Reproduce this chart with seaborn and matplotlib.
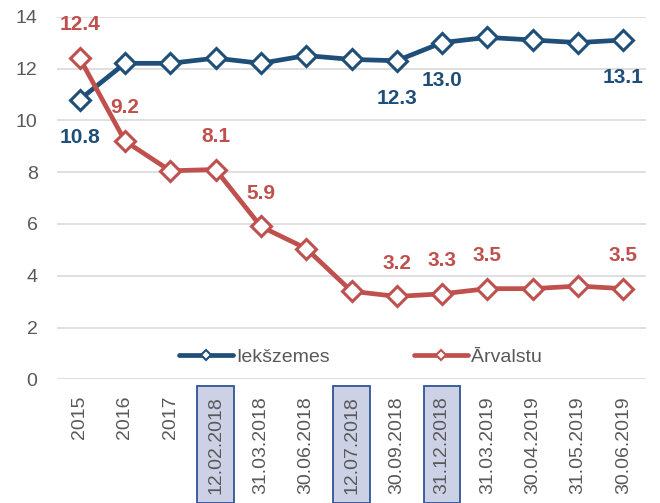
import numpy as np
import pandas as pd
import matplotlib
matplotlib.use("Agg")
import matplotlib.pyplot as plt
from matplotlib.lines import Line2D
import seaborn as sns

# data
periods = ["2015", "2016", "2017", "12.02.2018", "31.03.2018", "30.06.2018",
           "12.07.2018", "30.09.2018", "31.12.2018", "31.03.2019", "30.04.2019",
           "31.05.2019", "30.06.2019"]
iekszemes = [10.8, 12.2, 12.2, 12.4, 12.2, 12.5, 12.35, 12.3, 13.0, 13.2, 13.1, 13.0, 13.1]
arvalstu = [12.4, 9.2, 8.05, 8.1, 5.9, 5.05, 3.4, 3.2, 3.3, 3.5, 3.5, 3.6, 3.5]
series_names = ["Iekšzemes", "Ārvalstu"]

# which points get a value label
iek_labeled = [0, 7, 8, 12]
arv_labeled = [0, 1, 3, 4, 7, 8, 9, 12]
highlighted = ["12.02.2018", "12.07.2018", "31.12.2018"]

BLUE = "#1F4E79"
RED = "#C0504D"
GREY = "#595959"

sns.set_style("white")
plt.rcParams["font.family"] = ["Liberation Sans", "DejaVu Sans"]

df = pd.DataFrame({
    "period": periods * 2,
    "value": iekszemes + arvalstu,
    "series": [series_names[0]] * len(periods) + [series_names[1]] * len(periods),
})

fig = plt.figure(figsize=(6.6, 5.03), dpi=100)
ax = fig.add_axes([57 / 660, 1 - 379.3 / 503, 589 / 660, (379.3 - 16.7) / 503])

sns.lineplot(data=df, x="period", y="value", hue="series", sort=False,
             palette=[BLUE, RED], marker="D", markersize=10,
             markerfacecolor="white", markeredgewidth=2.2, linewidth=3.4,
             legend=False, ax=ax)
for ln, c in zip(ax.lines, [BLUE, RED]):
    ln.set_markeredgecolor(c)

ax.set_ylim(0, 14)
ax.set_xlim(-0.5, len(periods) - 0.5)
ax.set_yticks(np.arange(0, 15, 2))
ax.yaxis.grid(True, color="#D9D9D9", linewidth=1.2)
ax.set_axisbelow(True)
for s in ax.spines.values():
    s.set_visible(False)
ax.set_xlabel("")
ax.set_ylabel("")
ax.tick_params(axis="y", labelsize=14, labelcolor=GREY, length=0, pad=14)
ax.tick_params(axis="x", labelsize=14, labelcolor=GREY, length=0, pad=12)
plt.setp(ax.get_xticklabels(), rotation=90, va="top", ha="center")
for lbl in ax.get_xticklabels():
    if lbl.get_text() in highlighted:
        lbl.set_bbox(dict(facecolor="#CDD1E6", edgecolor="#2F5597", linewidth=1.3, pad=7))

# value labels
for i in iek_labeled:
    ax.annotate(f"{iekszemes[i]:.1f}", (periods[i], iekszemes[i]), xytext=(0, -27),
                textcoords="offset points", ha="center", va="center",
                fontsize=15, fontweight="bold", color=BLUE)
for i in arv_labeled:
    ax.annotate(f"{arvalstu[i]:.1f}", (periods[i], arvalstu[i]), xytext=(0, 24),
                textcoords="offset points", ha="center", va="center",
                fontsize=15, fontweight="bold", color=RED)

handles = [Line2D([], [], color=c, linewidth=3.4, marker="D", markersize=5,
                  markerfacecolor="white", markeredgecolor=c, markeredgewidth=1.5)
           for c in [BLUE, RED]]
ax.legend(handles, series_names, loc="center", bbox_to_anchor=(0.515, 0.062),
          ncol=2, frameon=False, fontsize=14, handlelength=2.8,
          handletextpad=0.15, columnspacing=4.3, labelcolor=GREY)

fig.savefig("out.png", dpi=100)
